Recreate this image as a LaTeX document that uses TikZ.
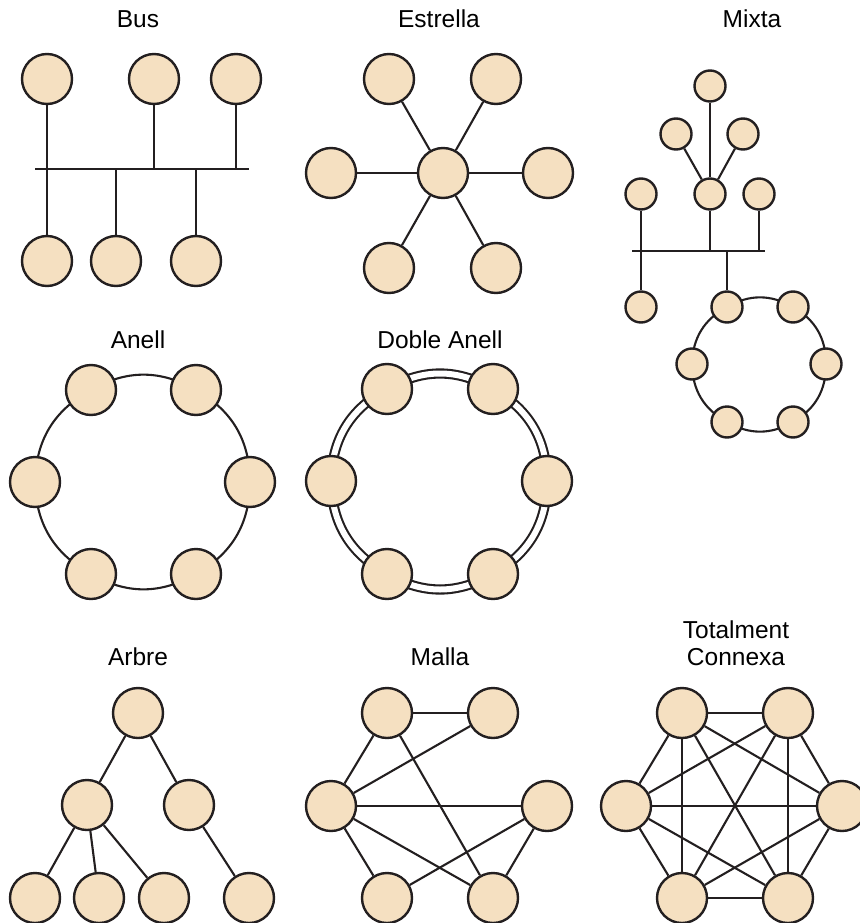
\documentclass[tikz,border=0pt]{standalone}
\usepackage{fontspec}
\setmainfont{Liberation Sans}
\usepackage{tikz}
\usetikzlibrary{positioning,backgrounds}
\definecolor{hostfill}{RGB}{245,224,193}
\definecolor{inkline}{RGB}{35,31,32}
\tikzset{
    host/.style={
           circle,
           draw=inkline, line width=2.4pt,
           fill=hostfill,
           minimum size=50pt,
           inner sep=0pt,
           },
    smallhost/.style={host, minimum size=31pt},
    link/.style={draw=inkline, line width=2.1pt},
    doublelink/.style={link, double=white, double distance=6pt},
    title/.style={anchor=base, align=center, font=\fontsize{24.5}{27}\selectfont},
}

\begin{document}
\begin{tikzpicture}[x=1pt, y=-1pt, every edge/.style={link}]
      \useasboundingbox (0,0) rectangle (859,923);

      % TITLES
      \node[title] (T_BUS)   at (138,28)  {Bus};
      \node[title] (T_STAR)  at (439,28)  {Estrella};
      \node[title] (T_MIX)   at (752,28)  {Mixta};
      \node[title] (T_RING)  at (138,348) {Anell};
      \node[title] (T_DRING) at (440,348) {Doble Anell};
      \node[title] (T_TREE)  at (138,665) {Arbre};
      \node[title] (T_MESH)  at (440,665) {Malla};
      \node[title] (T_FULL)  at (736,665) {Totalment\\Connexa}; % base = last line

      % BUS
      % three hosts above the line, three below
      \node[host] (BUS_U1) at (47,79) {};
      \node[host, right of=BUS_U1, node distance=107pt] (BUS_U2) {};
      \node[host, right of=BUS_U2, node distance=82pt] (BUS_U3) {};
      \node[host] (BUS_D1) at (47,261) {};
      \node[host, right of=BUS_D1, node distance=69pt] (BUS_D2) {};
      \node[host, right of=BUS_D2, node distance=80pt] (BUS_D3) {};
      \coordinate (BUS_L) at (35,169);
      \coordinate (BUS_R) at (249,169);

      % ESTRELLA
      \node[host] (STAR_C) at (443,173) {};
      \node[host] (STAR_1) at (389,79)  {};
      \node[host] (STAR_2) at (496,79)  {};
      \node[host] (STAR_3) at (548,173) {};
      \node[host] (STAR_4) at (496,268) {};
      \node[host] (STAR_5) at (389,268) {};
      \node[host] (STAR_6) at (331,173) {};

      % MIXTA
      % small tree on top of a bus, a ring hangs from the bus
      \node[smallhost] (MIX_T1) at (710,86)  {};
      \node[smallhost] (MIX_T2) at (676,134) {};
      \node[smallhost] (MIX_T3) at (743,134) {};
      \node[smallhost] (MIX_B1) at (641,194) {};
      \node[smallhost] (MIX_B2) at (710,194) {};
      \node[smallhost] (MIX_B3) at (759,194) {};
      \node[smallhost] (MIX_B4) at (641,307) {};
      \coordinate (MIX_L) at (632,251);
      \coordinate (MIX_R) at (765,251);
      \node[smallhost] (MIX_R1) at (727,307) {};
      \node[smallhost] (MIX_R2) at (793,307) {};
      \node[smallhost] (MIX_R3) at (826,364) {};
      \node[smallhost] (MIX_R4) at (793,422) {};
      \node[smallhost] (MIX_R5) at (727,422) {};
      \node[smallhost] (MIX_R6) at (692,364) {};

      % ANELL
      \node[host] (RING_1) at (91,390)  {};
      \node[host] (RING_2) at (196,390) {};
      \node[host] (RING_3) at (250,482) {};
      \node[host] (RING_4) at (196,574) {};
      \node[host] (RING_5) at (91,574)  {};
      \node[host] (RING_6) at (35,482)  {};

      % DOBLE ANELL
      \node[host] (DRING_1) at (387,389) {};
      \node[host] (DRING_2) at (493,389) {};
      \node[host] (DRING_3) at (547,481) {};
      \node[host] (DRING_4) at (493,574) {};
      \node[host] (DRING_5) at (387,574) {};
      \node[host] (DRING_6) at (331,481) {};

      % ARBRE
      \node[host] (TREE_R)  at (138,713) {};
      \node[host] (TREE_A)  at (87,805)  {};
      \node[host] (TREE_B)  at (189,805) {};
      \node[host] (TREE_A1) at (35,898)  {};
      \node[host] (TREE_A2) at (99,898)  {};
      \node[host] (TREE_A3) at (164,898) {};
      \node[host] (TREE_B1) at (249,898) {};

      % MALLA
      \node[host] (MESH_A) at (387,713) {};
      \node[host, right of=MESH_A, node distance=106pt] (MESH_B) {};
      \node[host] (MESH_C) at (331,806) {};
      \node[host] (MESH_D) at (547,806) {};
      \node[host] (MESH_E) at (387,898) {};
      \node[host, right of=MESH_E, node distance=106pt] (MESH_F) {};

      % TOTALMENT CONNEXA
      \node[host] (FULL_1) at (682,713) {};
      \node[host] (FULL_2) at (788,713) {};
      \node[host] (FULL_3) at (842,806) {};
      \node[host] (FULL_4) at (788,898) {};
      \node[host] (FULL_5) at (682,898) {};
      \node[host] (FULL_6) at (626,806) {};

      % connectors go below the hosts
      \begin{scope}[on background layer]
      % bus lines
      \draw[link] (BUS_L) -- (BUS_R);
      \draw[link] (BUS_U1) -- (BUS_D1);
      \draw[link] (BUS_U2) -- (BUS_U2 |- BUS_L);
      \draw[link] (BUS_U3) -- (BUS_U3 |- BUS_L);
      \draw[link] (BUS_D2 |- BUS_L) -- (BUS_D2);
      \draw[link] (BUS_D3 |- BUS_L) -- (BUS_D3);

      \foreach \i in {1,...,6}
          \draw[link] (STAR_C) -- (STAR_\i);

      % mixed one
      \draw[link] (MIX_L) -- (MIX_R);
      \path
      (MIX_T1)    edge (MIX_B2)
      (MIX_T2)    edge (MIX_B2)
      (MIX_T3)    edge (MIX_B2)
      (MIX_B1)    edge (MIX_B4)
      (MIX_B2)    edge (MIX_B2 |- MIX_L)
      (MIX_B3)    edge (MIX_B3 |- MIX_L)
      (MIX_R1 |- MIX_L) edge (MIX_R1)
      ;
      \foreach \a/\b in {1/2,2/3,3/4,4/5,5/6,6/1}
          \draw[link] (MIX_R\a.center) to[bend left=30] (MIX_R\b.center);

      % rings
      \foreach \a/\b in {1/2,2/3,3/4,4/5,5/6,6/1}{
          \draw[link] (RING_\a.center) to[bend left=30] (RING_\b.center);
          \draw[doublelink] (DRING_\a.center) to[bend left=30] (DRING_\b.center);
      }

      % tree
      \path
      (TREE_R)    edge (TREE_A)
      (TREE_R)    edge (TREE_B)
      (TREE_A)    edge (TREE_A1)
      (TREE_A)    edge (TREE_A2)
      (TREE_A)    edge (TREE_A3)
      (TREE_B)    edge (TREE_B1)
      ;

      % mesh
      \path
      (MESH_A)    edge (MESH_B)
      (MESH_A)    edge (MESH_C)
      (MESH_A)    edge (MESH_F)
      (MESH_B)    edge (MESH_C)
      (MESH_C)    edge (MESH_D)
      (MESH_C)    edge (MESH_E)
      (MESH_C)    edge (MESH_F)
      (MESH_D)    edge (MESH_E)
      (MESH_D)    edge (MESH_F)
      ;

      % every pair
      \foreach \a [evaluate=\a as \n using int(\a+1)] in {1,...,5}
          \foreach \b in {\n,...,6}
              \draw[link] (FULL_\a) -- (FULL_\b);
      \end{scope}

\end{tikzpicture}
\end{document}
